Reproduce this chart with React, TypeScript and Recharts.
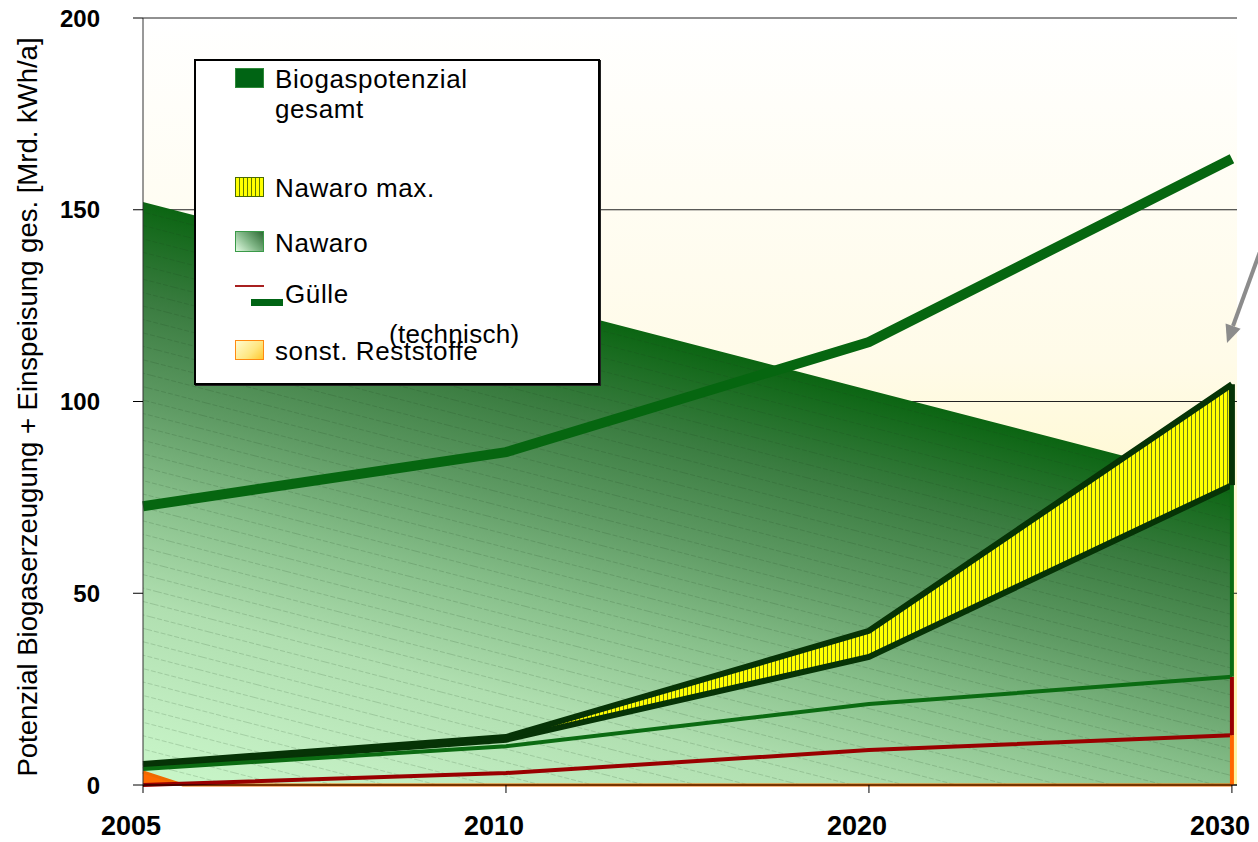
import React from 'react';
import {
  ComposedChart,
  Area,
  Line,
  XAxis,
  YAxis,
  CartesianGrid,
  ReferenceLine,
  Legend,
} from 'recharts';

const FONT = '"Liberation Sans", Arial, Helvetica, sans-serif';

// x positions of the years on the (evenly spaced) time axis
const years = ['2005', '2010', '2020', '2030'];
const yearPos = [0, 1, 2, 3];

// Mrd. kWh/a
const gesamt = [152, 127.5, 103, 78.5];
const nawaroMax = [5.5, 12.5, 40.2, 104.5];
const nawaroMin = [4.8, 11.8, 33.4, 78.2];
const nawaro = [4.2, 10.1, 21.1, 28.2];
const guelle = [0, 3.1, 9.1, 13];
const einspeisung = [72.7, 86.8, 115.5, 163.3];

// sonst. Reststoffe has its own knots
const reststoffePos = [0, 0.11, 3];
const reststoffe = [3.4, 0, 0];

const yTicks = [0, 50, 100, 150, 200];

const Y_LABEL = 'Potenzial Biogaserzeugung + Einspeisung ges. [Mrd. kWh/a]';

type Row = { x: number; [key: string]: number | undefined };

const buildRows = (): Row[] => {
  const rows = new Map<number, Row>();
  yearPos.forEach((x, i) => {
    rows.set(x, {
      x,
      gesamt: gesamt[i],
      nawaroMax: nawaroMax[i],
      nawaroMin: nawaroMin[i],
      nawaro: nawaro[i],
      guelle: guelle[i],
      einspeisung: einspeisung[i],
    });
  });
  reststoffePos.forEach((x, i) => {
    const row = rows.get(x) ?? { x };
    row.reststoffe = reststoffe[i];
    rows.set(x, row);
  });
  return [...rows.values()].sort((a, b) => a.x - b.x);
};

const data = buildRows();
const last = yearPos.length - 1;

const swatch = (extra: React.CSSProperties): React.CSSProperties => ({
  position: 'absolute',
  left: 39,
  width: 29,
  height: 20,
  boxSizing: 'border-box',
  ...extra,
});

const text = (left: number, top: number): React.CSSProperties => ({
  position: 'absolute',
  left,
  top,
  lineHeight: '30px',
  whiteSpace: 'nowrap',
});

const LegendBox = () => (
  <div
    style={{
      position: 'relative',
      width: 406,
      height: 326,
      background: '#fff',
      border: '2px solid #000',
      boxShadow: '1px 1px 0 #222',
      boxSizing: 'border-box',
      fontFamily: FONT,
      fontSize: 26,
      letterSpacing: 0.6,
      color: '#000',
    }}
  >
    <div style={swatch({ top: 7, background: '#006414', border: '1px solid #2f8a3a' })} />
    <div style={text(79, 3)}>
      Biogaspotenzial
      <br />
      gesamt
    </div>

    <div
      style={swatch({
        top: 116,
        background: 'repeating-linear-gradient(90deg, #ffff00 0 3px, #5f7a00 3px 4px)',
        border: '1px solid #4a6a00',
      })}
    />
    <div style={text(79, 112)}>Nawaro max.</div>

    <div
      style={swatch({
        top: 170,
        height: 21,
        background: 'linear-gradient(225deg, #2f6a35 0%, #7fb585 50%, #e2fbe2 100%)',
        border: '1px solid #3a9a48',
      })}
    />
    <div style={text(79, 167)}>Nawaro</div>

    <div style={{ position: 'absolute', left: 39, top: 224, width: 29, height: 2, background: '#a82020' }} />
    <div style={{ position: 'absolute', left: 55, top: 238, width: 32, height: 7, background: '#006414' }} />
    <div style={text(89, 218)}>Gülle</div>

    <div
      style={swatch({
        top: 279,
        background: 'linear-gradient(135deg, #fffbd0 0%, #ffe680 60%, #ffc830 100%)',
        border: '1px solid #ff8a10',
      })}
    />
    <div style={text(79, 275)}>sonst. Reststoffe</div>
    <div style={{ ...text(193, 258), letterSpacing: 0.3 }}>(technisch)</div>
  </div>
);

// rotated axis title, centred on the plot height
const YAxisTitle = () => (
  <text
    x={27}
    y={407}
    transform="rotate(-90 27 407)"
    textAnchor="middle"
    dominantBaseline="central"
    fontSize={27.5}
    fontFamily={FONT}
    fill="#000"
  >
    {Y_LABEL}
  </text>
);

const App = () => (
  <div style={{ position: 'absolute', left: 0, top: 0, width: 1258, height: 842, background: '#fff', fontFamily: FONT }}>
    <ComposedChart width={1258} height={842} data={data} margin={{ top: 18, right: 21, bottom: 0, left: 0 }}>
      <defs>
        <linearGradient id="plotBg" x1="0" y1="0" x2="0" y2="1">
          <stop offset="0%" stopColor="#ffffff" />
          <stop offset="45%" stopColor="#fffbe8" />
          <stop offset="100%" stopColor="#fff39c" />
        </linearGradient>
        {/* bands run parallel to the upper edge of the total potential */}
        <linearGradient id="gesamtFill" gradientUnits="userSpaceOnUse" x1="700" y1="346" x2="558" y2="892">
          <stop offset="0%" stopColor="#0b6512" />
          <stop offset="17%" stopColor="#3a7c40" />
          <stop offset="34%" stopColor="#5e9a63" />
          <stop offset="51%" stopColor="#88c08b" />
          <stop offset="69%" stopColor="#b0dfb0" />
          <stop offset="86%" stopColor="#c0ecc0" />
          <stop offset="100%" stopColor="#c9f7c9" />
        </linearGradient>
        <pattern id="gesamtHatch" patternUnits="userSpaceOnUse" width="60" height="13" patternTransform="rotate(14.5)">
          <line x1="0" y1="0.5" x2="60" y2="0.5" stroke="#16381a" strokeOpacity={0.17} strokeWidth={1} strokeDasharray="5 2" />
        </pattern>
        <pattern id="yellowStripes" patternUnits="userSpaceOnUse" width="4" height="4">
          <rect width="4" height="4" fill="#ffff00" />
          <rect x="3" width="1" height="4" fill="#6d7d1a" />
        </pattern>
      </defs>

      <CartesianGrid horizontal vertical={false} stroke="#222" fill="url(#plotBg)" fillOpacity={1} />

      <XAxis
        type="number"
        dataKey="x"
        domain={[0, 3.014]}
        ticks={yearPos}
        interval={0}
        tickFormatter={(v: number) => years[yearPos.indexOf(v)] ?? ''}
        height={57}
        tickSize={8}
        tickMargin={23}
        axisLine={{ stroke: '#000' }}
        tickLine={{ stroke: '#000' }}
        tick={{ fill: '#000', fontSize: 27, fontWeight: 700, fontFamily: FONT, dx: -12 }}
      />
      <YAxis
        domain={[0, 200]}
        ticks={yTicks}
        interval={0}
        width={143}
        tickSize={10}
        tickMargin={33}
        axisLine={{ stroke: '#333' }}
        tickLine={{ stroke: '#000' }}
        tick={{ fill: '#000', fontSize: 24, fontWeight: 700, fontFamily: FONT }}
        label={<YAxisTitle />}
      />

      {/* Biogaspotenzial gesamt: shaded body plus fine diagonal hatching */}
      <Area type="linear" dataKey="gesamt" stroke="none" fill="url(#gesamtFill)" fillOpacity={1} connectNulls isAnimationActive={false} />
      <Area type="linear" dataKey="gesamt" stroke="none" fill="url(#gesamtHatch)" fillOpacity={1} connectNulls isAnimationActive={false} />

      {/* Nawaro max. band */}
      <Area
        type="linear"
        dataKey={(d: Row) => (d.nawaroMin == null ? [undefined, undefined] : [d.nawaroMin, d.nawaroMax])}
        stroke="none"
        fill="url(#yellowStripes)"
        fillOpacity={1}
        connectNulls
        isAnimationActive={false}
      />

      {/* sonst. Reststoffe */}
      <Area type="linear" dataKey="reststoffe" stroke="#f06a00" strokeWidth={3} fill="#ff6a00" fillOpacity={1} connectNulls isAnimationActive={false} />

      <Line type="linear" dataKey="nawaroMin" stroke="#063306" strokeWidth={6} dot={false} activeDot={false} connectNulls isAnimationActive={false} />
      <Line type="linear" dataKey="nawaroMax" stroke="#063306" strokeWidth={6} dot={false} activeDot={false} connectNulls isAnimationActive={false} />
      <Line type="linear" dataKey="nawaro" stroke="#0b6b12" strokeWidth={4} dot={false} activeDot={false} connectNulls isAnimationActive={false} />
      <Line type="linear" dataKey="guelle" stroke="#990000" strokeWidth={4} dot={false} activeDot={false} connectNulls isAnimationActive={false} />

      {/* right-hand edges of the stacked fields at 2030 */}
      <ReferenceLine segment={[{ x: yearPos[last], y: 0 }, { x: yearPos[last], y: guelle[last] }]} stroke="#ff6600" strokeWidth={4} ifOverflow="visible" />
      <ReferenceLine segment={[{ x: yearPos[last], y: guelle[last] }, { x: yearPos[last], y: nawaro[last] }]} stroke="#990000" strokeWidth={4} ifOverflow="visible" />
      <ReferenceLine segment={[{ x: yearPos[last], y: nawaro[last] }, { x: yearPos[last], y: nawaroMin[last] }]} stroke="#0b6b12" strokeWidth={4} ifOverflow="visible" />
      <ReferenceLine segment={[{ x: yearPos[last], y: nawaroMin[last] }, { x: yearPos[last], y: nawaroMax[last] }]} stroke="#063306" strokeWidth={6} ifOverflow="visible" />

      {/* Einspeisung gesamt */}
      <Line type="linear" dataKey="einspeisung" stroke="#066610" strokeWidth={10} dot={false} activeDot={false} connectNulls isAnimationActive={false} />

      <Legend
        layout="vertical"
        align="center"
        verticalAlign="middle"
        wrapperStyle={{ left: 194, top: 59, width: 406, height: 326 }}
        content={() => <LegendBox />}
      />
    </ComposedChart>

    <svg width={1258} height={842} style={{ position: 'absolute', left: 0, top: 0, pointerEvents: 'none' }}>
      <line x1={1262} y1={246} x2={1233} y2={326} stroke="#8c8c8c" strokeWidth={4} />
      <polygon points="1227,343 1240.6,328.8 1225.6,323.4" fill="#8c8c8c" />
    </svg>
  </div>
);

export default App;
